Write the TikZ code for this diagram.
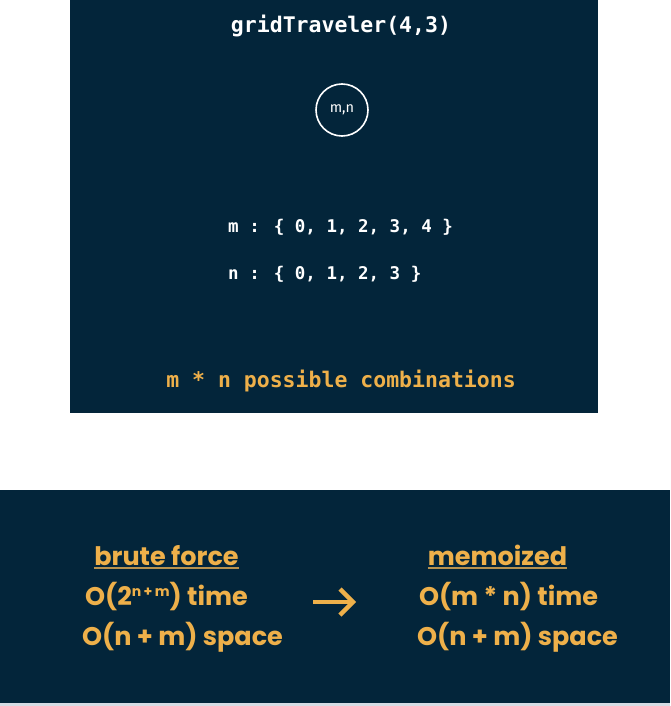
\documentclass[tikz,border=0pt]{standalone}
\usepackage{fontspec}
\setmainfont{Poppins}
\newfontfamily\codefont{DejaVu Sans Mono}
\newfontfamily\labfont{Fira Sans}
\definecolor{navy}{HTML}{03253A}
\definecolor{gold}{HTML}{EEB04A}
\definecolor{ulgold}{HTML}{B8924F}
\definecolor{edge}{HTML}{D5DCE4}
\tikzset{
  panel/.style={fill=navy, draw=none},
  code/.style={inner sep=0pt, text=white, font=\codefont\bfseries\fontsize{17.5}{17.5}\selectfont},
  codetitle/.style={inner sep=0pt, text=white, font=\codefont\bfseries\fontsize{21.5}{21.5}\selectfont},
  codegold/.style={inner sep=0pt, text=gold, font=\codefont\bfseries\fontsize{21.5}{21.5}\selectfont},
  statenode/.style={circle, draw=white, line width=1.6pt, minimum size=52pt, inner sep=0pt, text=white, font=\labfont\fontsize{14.5}{14.5}\selectfont},
  cplx/.style={inner sep=0pt, text=gold, font=\bfseries\fontsize{25.5}{25.5}\selectfont},
  uline/.style={draw=ulgold, line width=1.8pt},
  bigarrow/.style={draw=gold, line width=4.5pt}
}
\begin{document}
\begin{tikzpicture}[x=1pt, y=-1pt]
\useasboundingbox (0,0) rectangle (670,706);
% panels
\path[panel] (70,0) rectangle (598,413);
\path[panel] (0,490) rectangle (670,703);
\path[fill=edge] (0,703) rectangle (670,706);
% top panel
\node[codetitle, anchor=base] (title) at (341,33) {gridTraveler(4,3)};
\node[statenode] (mn) at (342,110) {m,n};
\node[code, anchor=base west] (mset) at (228,232) {m : \{ 0, 1, 2, 3, 4 \}};
\node[code, anchor=base west] (nset) at (228,279) {n : \{ 0, 1, 2, 3 \}};
\node[codegold, anchor=base] (comb) at (341,387) {m * n possible combinations};
% bottom panel
\node[cplx, anchor=base] (bf) at (166.5,565) {brute force};
\draw[uline] ([yshift=-3pt]bf.base west) -- ([yshift=-3pt]bf.base east);
\node[cplx, anchor=base] (bft) at (166.5,605) {O(2{\fontsize{14}{14}\selectfont\raisebox{9pt}{n\,+\,m}}) time};
\node[cplx, anchor=base] (bfs) at (182.5,645) {O(n + m) space};
\node[cplx, anchor=base] (me) at (497.5,565) {memoized};
\draw[uline] ([yshift=-3pt]me.base west) -- ([yshift=-3pt]me.base east);
\node[cplx, anchor=base] (met) at (508.5,605) {O(m * n) time};
\node[cplx, anchor=base] (mes) at (517.5,645) {O(n + m) space};
% arrow
\coordinate (a0) at (313,602);
\coordinate (a1) at (353,602);
\coordinate (h1) at (340,589);
\coordinate (h2) at (340,615);
\draw[bigarrow] (a0) -- (a1);
\draw[bigarrow, line join=miter] (h1) -- (a1) -- (h2);
\end{tikzpicture}
\end{document}
